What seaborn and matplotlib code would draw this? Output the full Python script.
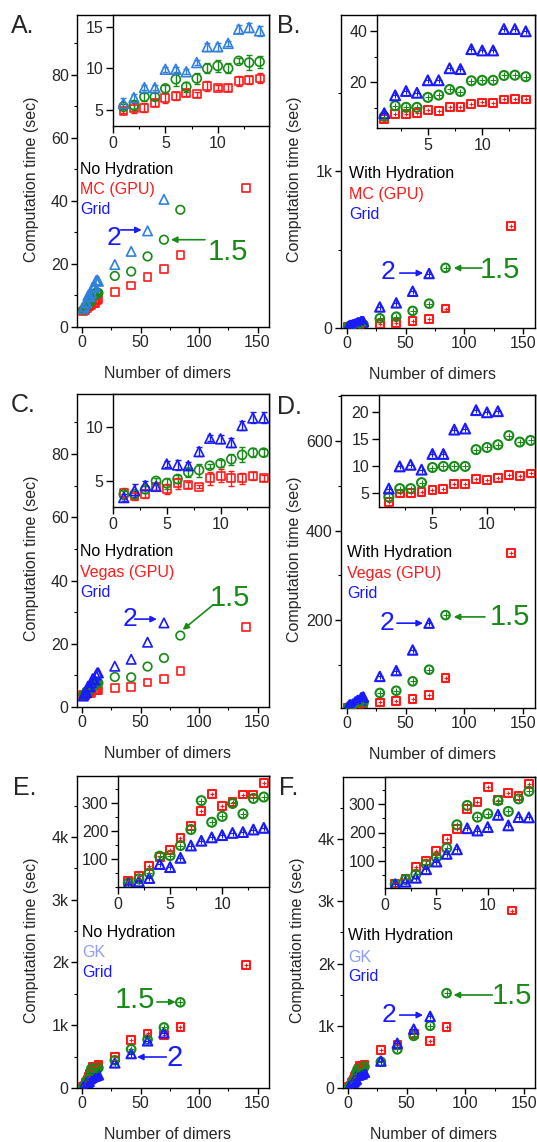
import matplotlib
matplotlib.use("Agg")
import matplotlib.pyplot as plt
import seaborn as sns
from matplotlib.ticker import MultipleLocator, FixedLocator, FuncFormatter

# ---------------- data ----------------
dimers_small = list(range(1, 15))
dimers_red = [28, 42, 56, 70, 84, 140]
dimers_green = [28, 42, 56, 70, 84]
dimers_blue = [28, 42, 56, 70]

# Panel A: No hydration, MC (GPU)
red_small_A = [4.9, 5.2, 5.3, 5.9, 6.5, 6.7, 7.1, 6.9, 7.9, 7.7, 7.7, 8.5, 8.6, 8.8]
green_small_A = [5.4, 5.6, 6.6, 6.6, 7.6, 8.7, 7.8, 8.8, 10.0, 10.3, 10.0, 10.9, 10.7, 10.8]
blue_small_A = [5.8, 6.5, 7.7, 7.7, 9.9, 9.9, 9.6, 10.7, 12.6, 12.6, 13.0, 14.7, 14.9, 14.5]
red_err_A = [0.3, 0.6, 0.5, 0.4, 0.6, 0.5, 0.4, 0.3, 0.6, 0.3, 0.4, 0.6, 0.5, 0.6]
green_err_A = [0.3, 0.6, 0.5, 0.4, 0.4, 0.8, 0.6, 0.7, 0.6, 0.7, 0.6, 0.3, 0.9, 0.7]
blue_err_A = [0.6, 0.4, 0.3, 0.3, 0.3, 0.3, 0.3, 0.3, 0.5, 0.5, 0.3, 0.5, 0.5, 0.6]
red_large_A = [11.1, 13.2, 15.8, 18.4, 22.9, 44.2]
green_large_A = [16.2, 17.6, 22.4, 27.7, 37.2]
blue_large_A = [19.8, 24.0, 30.5, 40.5]

# Panel B: With hydration, MC (GPU)
red_small_B = [5.6, 7.5, 7.5, 8.0, 9.0, 8.6, 10.2, 10.2, 11.5, 12.0, 11.8, 13.2, 13.3, 13.2]
green_small_B = [6.5, 10.7, 10.1, 10.1, 14.0, 14.9, 17.1, 16.3, 20.5, 20.7, 20.7, 22.6, 22.7, 22.1]
blue_small_B = [7.8, 14.8, 16.5, 15.8, 20.7, 20.7, 25.4, 25.1, 32.9, 32.4, 32.4, 40.8, 40.8, 39.9]
red_large_B = [26, 32, 43, 57, 123, 651]
green_large_B = [62, 72, 109, 155, 383]
blue_large_B = [134, 160, 234, 347]

# Panel C: No hydration, Vegas (GPU)
red_small_C = [3.87, 3.56, 3.8, 4.42, 4.26, 4.79, 4.63, 4.48, 5.25, 5.46, 5.25, 5.25, 5.46, 5.25]
green_small_C = [3.77, 3.77, 4.23, 5.0, 4.79, 5.18, 5.8, 6.0, 6.4, 6.62, 7.0, 7.4, 7.6, 7.6]
blue_small_C = [3.47, 4.1, 4.57, 4.5, 6.56, 6.47, 6.4, 7.7, 8.93, 8.87, 8.53, 10.1, 10.8, 10.8]
red_err_C = [0.5, 0.3, 0.4, 0.3, 0.5, 0.5, 0.3, 0.1, 0.6, 0.6, 0.7, 0.5, 0.4, 0.3]
green_err_C = [0.3, 0.3, 0.3, 0.3, 0.5, 0.4, 0.4, 0.6, 0.2, 0.3, 0.5, 0.7, 0.4, 0.3]
blue_err_C = [0.3, 0.6, 0.4, 0.3, 0.3, 0.5, 0.3, 0.4, 0.3, 0.4, 0.4, 0.4, 0.5, 0.5]
red_large_C = [6.0, 6.3, 7.8, 8.8, 11.3, 25.3]
green_large_C = [9.5, 9.4, 12.8, 15.5, 22.6]
blue_large_C = [12.9, 15.1, 20.5, 26.6]

# Panel D: With hydration, Vegas (GPU)
red_small_D = [3.4, 4.9, 5.0, 5.2, 5.5, 5.8, 6.7, 6.7, 7.6, 7.4, 7.8, 8.3, 8.1, 8.6]
green_small_D = [4.25, 5.8, 5.8, 6.9, 9.7, 9.9, 9.9, 9.9, 13.0, 13.4, 13.9, 15.6, 14.4, 14.7]
blue_small_D = [5.8, 9.9, 10.2, 9.3, 12.2, 12.2, 16.7, 16.9, 20.3, 19.9, 20.1, 26.0, 27.0, 28.0]
red_large_D = [16, 18.5, 24, 33, 70, 350]
green_large_D = [37, 42, 63, 89, 211]
blue_large_D = [74, 87, 133, 193]

# Panel E: No hydration, GK
red_small_E = [20, 40, 76, 106, 131, 175, 219, 270, 333, 290, 304, 330, 330, 371]
green_small_E = [14, 29, 50, 110, 112, 148, 205, 308, 231, 252, 298, 261, 316, 321]
blue_small_E = [12, 20, 32, 82, 71, 104, 148, 165, 177, 185, 193, 196, 205, 211]
red_large_E = [496, 762, 869, 842, 976, 1962]
green_large_E = [442, 618, 773, 965, 1365]
blue_large_E = [400, 549, 752, 880]

# Panel F: With hydration, GK
red_small_F = [21, 36, 78, 101, 136, 176, 213, 282, 306, 359, 315, 339, 329, 371]
green_small_F = [18, 35, 53, 89, 113, 145, 227, 295, 254, 266, 312, 274, 318, 345]
blue_small_F = [18, 27, 41, 71, 98, 125, 141, 215, 207, 219, 262, 225, 254, 253]
red_large_F = [610, 690, 870, 756, 983, 2851]
green_large_F = [421, 621, 837, 999, 1523]
blue_large_F = [432, 718, 945, 1150]

# ---------------- style ----------------
sns.set_style("ticks")
plt.rcParams['font.family'] = ['Liberation Sans', 'DejaVu Sans']
plt.rcParams['font.size'] = 11.5
plt.rcParams['axes.linewidth'] = 1.0

RED = '#ff1a1a'
GREEN = '#178a17'
BLUE = '#1a1aff'
LIGHTBLUE_A = '#3080e0'
GK = '#8c9cff'

W, H = 537, 1142
fig = plt.figure(figsize=(W / 100, H / 100), dpi=100)


def add_ax(box):
    l, r, t, b = box
    return fig.add_axes([l / W, 1 - b / H, (r - l) / W, (b - t) / H])


def kfmt(v, p):
    if abs(v) < 1e-9:
        return '0'
    return f'{int(round(v / 1000))}k'


def style_axes(ax):
    for s in ax.spines.values():
        s.set_visible(True)
        s.set_color('black')
        s.set_linewidth(1.0)
    ax.tick_params(which='major', direction='out', length=4, width=1, labelsize=11.5,
                   pad=2, color='black')
    ax.tick_params(which='minor', direction='out', length=2.5, width=0.8, color='black')


def draw(ax, x, y, color, marker, size, crossed, lw):
    sns.scatterplot(x=x, y=y, ax=ax, marker=marker, s=size, color=color,
                    linewidth=lw, zorder=3, legend=False)
    coll = ax.collections[-1]
    coll.set_facecolor('none')
    coll.set_edgecolor(color)
    if crossed:
        sns.scatterplot(x=x, y=y, ax=ax, marker='+', s=size * 0.35, color=color,
                        linewidth=0.8, zorder=4, legend=False)


panels = [
    dict(letter='A.', lpos=(11, 14), main=(77, 269, 15, 327), inset=(113, 269, 15, 126),
         xlim=(-4.3, 159.8), ylim=(0, 99), ymaj=20, ymin=10, kfmt=False,
         ixlim=(0, 14.9), iylim=(3.1, 16.4), ixt=[0, 5, 10], iyt=[5, 10, 15], iymin=None,
         small=(red_small_A, green_small_A, blue_small_A),
         large=(red_large_A, green_large_A, blue_large_A),
         err=(red_err_A, green_err_A, blue_err_A), crossed=False, tri=LIGHTBLUE_A,
         labels=('No Hydration', 'MC (GPU)', 'Grid'), mcol=RED,
         lab_x=0.016, lab_y=(0.506, 0.442, 0.378),
         two=dict(t=(27.4, 28.3), a=((33, 30.8), (51, 30.8)), fs=19),
         one=dict(t=(125, 23.8), a=((105, 27.7), (76, 27.7)), fs=21)),
    dict(letter='B.', lpos=(277, 14), main=(341, 535, 15, 328), inset=(377, 535, 15, 128),
         xlim=(-5.1, 160.3), ylim=(0, 1994), ymaj=1000, ymin=500, kfmt=True,
         ixlim=(0.33, 14.85), iylim=(2, 46.3), ixt=[5, 10], iyt=[20, 40], iymin=10,
         small=(red_small_B, green_small_B, blue_small_B),
         large=(red_large_B, green_large_B, blue_large_B),
         err=None, crossed=True, tri=BLUE,
         labels=('With Hydration', 'MC (GPU)', 'Grid'), mcol=RED,
         lab_x=0.041, lab_y=(0.495, 0.428, 0.364),
         two=dict(t=(35, 357), a=((45, 350), (65, 350)), fs=19),
         one=dict(t=(130, 370), a=((115, 382), (91, 382)), fs=21)),
    dict(letter='C.', lpos=(11, 393), main=(77, 269, 394, 707), inset=(113, 269, 394, 507),
         xlim=(-4.3, 159.8), ylim=(0, 99), ymaj=20, ymin=10, kfmt=False,
         ixlim=(0, 14.5), iylim=(2.6, 13.0), ixt=[0, 5, 10], iyt=[5, 10], iymin=None,
         small=(red_small_C, green_small_C, blue_small_C),
         large=(red_large_C, green_large_C, blue_large_C),
         err=(red_err_C, green_err_C, blue_err_C), crossed=False, tri=BLUE,
         labels=('No Hydration', 'Vegas (GPU)', 'Grid'), mcol=RED,
         lab_x=0.016, lab_y=(0.497, 0.431, 0.367),
         two=dict(t=(41, 27.8), a=((45, 27.8), (64, 27.8)), fs=19),
         one=dict(t=(126.5, 34.5), a=((112, 32.3), (86, 24.4)), fs=21)),
    dict(letter='D.', lpos=(277, 395), main=(341, 535, 395, 708), inset=(379, 535, 395, 507),
         xlim=(-5.1, 160.3), ylim=(3.4, 703), ymaj=200, ymin=100, kfmt=False,
         ixlim=(0.1, 14.4), iylim=(2.4, 23.1), ixt=[0, 5, 10], iyt=[5, 10, 15, 20], iymin=None,
         small=(red_small_D, green_small_D, blue_small_D),
         large=(red_large_D, green_large_D, blue_large_D),
         err=None, crossed=True, tri=BLUE,
         labels=('With Hydration', 'Vegas (GPU)', 'Grid'), mcol=RED,
         lab_x=0.031, lab_y=(0.498, 0.431, 0.367),
         two=dict(t=(34, 193), a=((42.6, 193), (64.8, 193)), fs=19),
         one=dict(t=(139, 207), a=((117.6, 207), (91, 207)), fs=21)),
    dict(letter='E.', lpos=(13, 776), main=(77, 269, 776, 1088), inset=(118, 269, 776, 887),
         xlim=(-4.3, 159.8), ylim=(0, 4972), ymaj=1000, ymin=500, kfmt=True,
         ixlim=(0, 14.5), iylim=(0, 396), ixt=[0, 5, 10], iyt=[100, 200, 300], iymin=50,
         small=(red_small_E, green_small_E, blue_small_E),
         large=(red_large_E, green_large_E, blue_large_E),
         err=None, crossed=True, tri=BLUE,
         labels=('No Hydration', 'GK', 'Grid'), mcol=GK,
         lab_x=0.026, lab_y=(0.5, 0.433, 0.369),
         two=dict(t=(79.5, 478), a=((72, 494), (47, 494)), fs=21),
         one=dict(t=(45, 1403), a=((64, 1371), (80, 1371)), fs=21)),
    dict(letter='F.', lpos=(279, 776), main=(343, 535, 777, 1088), inset=(385, 535, 777, 888),
         xlim=(-4.3, 159.4), ylim=(0, 4996), ymaj=1000, ymin=500, kfmt=True,
         ixlim=(0, 14.6), iylim=(5, 395), ixt=[0, 5, 10], iyt=[100, 200, 300], iymin=50,
         small=(red_small_F, green_small_F, blue_small_F),
         large=(red_large_F, green_large_F, blue_large_F),
         err=None, crossed=True, tri=BLUE,
         labels=('With Hydration', 'GK', 'Grid'), mcol=GK,
         lab_x=0.026, lab_y=(0.489, 0.421, 0.357),
         two=dict(t=(35, 1172), a=((44, 1172), (64, 1172)), fs=19),
         one=dict(t=(140, 1478), a=((123, 1494), (90, 1494)), fs=21)),
]

for P in panels:
    ax = add_ax(P['main'])
    style_axes(ax)
    lw = 1.5 if P['crossed'] else 1.2
    reds, greens, blues = P['small']
    redl, greenl, bluel = P['large']
    tri = P['tri']
    draw(ax, dimers_small + dimers_red, reds + redl, RED, 's', 30, P['crossed'], lw)
    draw(ax, dimers_small + dimers_green, greens + greenl, GREEN, 'o', 38, P['crossed'], lw)
    draw(ax, dimers_small + dimers_blue, blues + bluel, tri, '^', 46, P['crossed'], lw)
    ax.set_xlim(*P['xlim'])
    ax.set_ylim(*P['ylim'])
    ax.xaxis.set_major_locator(FixedLocator([0, 50, 100, 150]))
    ax.xaxis.set_minor_locator(FixedLocator([25, 75, 125]))
    ax.yaxis.set_major_locator(MultipleLocator(P['ymaj']))
    ax.yaxis.set_minor_locator(MultipleLocator(P['ymin']))
    if P['kfmt']:
        ax.yaxis.set_major_formatter(FuncFormatter(kfmt))
    ax.set_xlabel('Number of dimers', fontsize=11.5)
    ax.set_ylabel('Computation time (sec)', fontsize=11.5)
    ax.xaxis.set_label_coords(0.47, -0.125)
    ax.yaxis.set_label_coords(-0.2, 0.475)

    # legend-like text
    cols = ('black', P['mcol'], BLUE)
    for txt, c, yy in zip(P['labels'], cols, P['lab_y']):
        ax.text(P['lab_x'], yy, txt, color=c, transform=ax.transAxes,
                ha='left', va='center', fontsize=11.5)

    # annotations
    two, one = P['two'], P['one']
    ax.text(*two['t'], '2', color=BLUE, fontsize=two['fs'], ha='center', va='center')
    ax.annotate('', xy=two['a'][1], xytext=two['a'][0],
                arrowprops=dict(arrowstyle='-|>', color=BLUE, lw=1.2,
                                shrinkA=0, shrinkB=0, mutation_scale=9))
    ax.text(*one['t'], '1.5', color=GREEN, fontsize=one['fs'], ha='center', va='center')
    ax.annotate('', xy=one['a'][1], xytext=one['a'][0],
                arrowprops=dict(arrowstyle='-|>', color=GREEN, lw=1.2,
                                shrinkA=0, shrinkB=0, mutation_scale=9))

    # inset
    ia = add_ax(P['inset'])
    ia.set_facecolor('white')
    style_axes(ia)
    if P['err'] is not None:
        for vals, e, c in zip(P['small'], P['err'], (RED, GREEN, tri)):
            ia.errorbar(dimers_small, vals, yerr=e, fmt='none', ecolor=c,
                        elinewidth=1.0, capsize=2, capthick=1.0, zorder=2)
    draw(ia, dimers_small, reds, RED, 's', 32, P['crossed'], lw)
    draw(ia, dimers_small, greens, GREEN, 'o', 42, P['crossed'], lw)
    draw(ia, dimers_small, blues, tri, '^', 50, P['crossed'], lw)
    ia.set_xlim(*P['ixlim'])
    ia.set_ylim(*P['iylim'])
    ia.xaxis.set_major_locator(FixedLocator(P['ixt']))
    ia.xaxis.set_minor_locator(FixedLocator([2.5, 7.5, 12.5]))
    ia.yaxis.set_major_locator(FixedLocator(P['iyt']))
    if P['iymin']:
        ia.yaxis.set_minor_locator(MultipleLocator(P['iymin']))
    ia.set_xlabel('')
    ia.set_ylabel('')
    ia.tick_params(which='major', length=5)

    fig.text(P['lpos'][0] / W, 1 - P['lpos'][1] / H, P['letter'], fontsize=18,
             ha='left', va='top')

fig.savefig('out.png', dpi=100)
